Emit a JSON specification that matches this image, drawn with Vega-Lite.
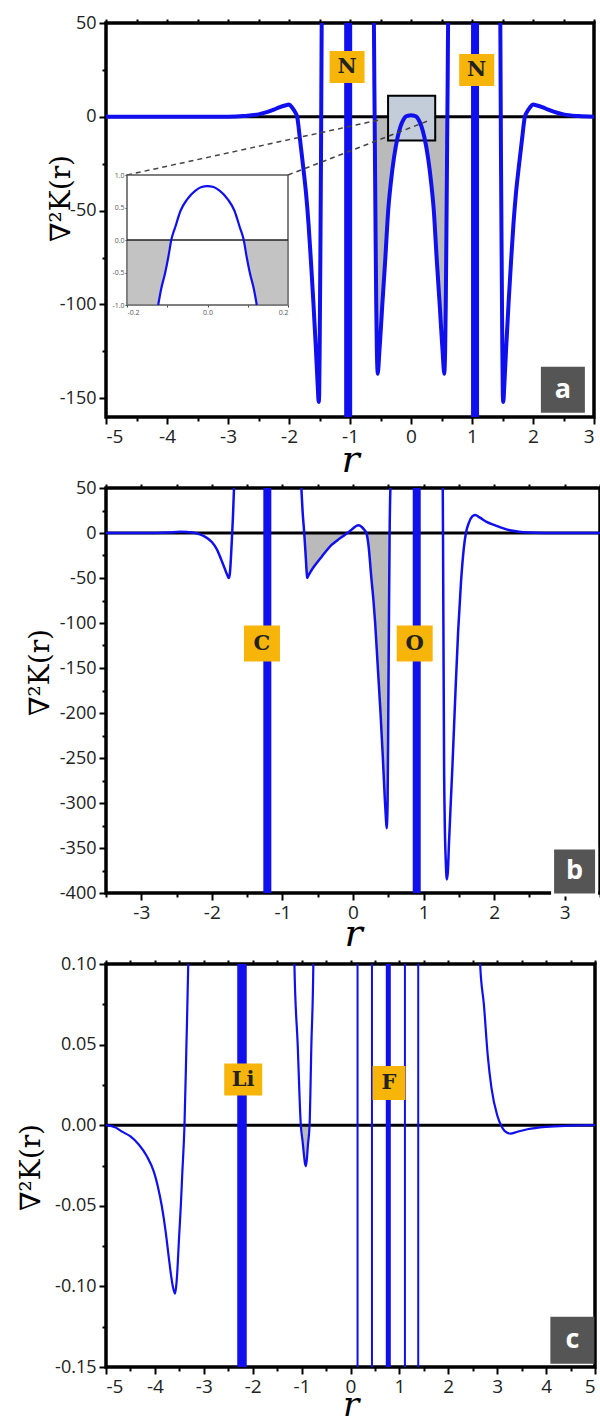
{
"$schema":"https://vega.github.io/schema/vega-lite/v6.json",
"autosize":{"type":"pad"},
"padding":{"left":15,"top":12,"right":0,"bottom":0},
"background":"white",
"config":{
 "view":{"stroke":"black","strokeWidth":3.5},
 "axis":{"labelFont":"Open Sans","labelFontSize":18,"labelColor":"#222","tickColor":"black","tickWidth":2,"domain":false,"grid":false,"titleFont":"DejaVu Serif","titleFontWeight":"normal","titleColor":"black","labelOverlap":false}
},
"datasets":{
 "curveA":[
  {"r":-5,"v":0},{"r":-3.2,"v":0},{"r":-3.0,"v":0.05},{"r":-2.75,"v":0.4},{"r":-2.5,"v":1.3},{"r":-2.35,"v":2.6},{"r":-2.25,"v":3.8},{"r":-2.15,"v":5.2},{"r":-2.05,"v":6.2},{"r":-2.0,"v":6.5},{"r":-1.95,"v":5.0},{"r":-1.9,"v":2.5},{"r":-1.866,"v":0},{"r":-1.82,"v":-12},{"r":-1.77,"v":-26},{"r":-1.72,"v":-41},{"r":-1.68,"v":-57},{"r":-1.64,"v":-77},{"r":-1.6,"v":-99},{"r":-1.56,"v":-123},{"r":-1.53,"v":-143},{"r":-1.513,"v":-152},{"r":-1.505,"v":-148},{"r":-1.495,"v":-115},{"r":-1.485,"v":-70},{"r":-1.475,"v":-20},{"r":-1.465,"v":45},{"r":-1.455,"v":90},{"r":-0.62,"v":90},{"r":-0.608,"v":50},{"r":-0.6,"v":15},{"r":-0.596,"v":0},{"r":-0.59,"v":-25},{"r":-0.58,"v":-65},{"r":-0.57,"v":-100},{"r":-0.56,"v":-124},{"r":-0.55,"v":-135},{"r":-0.545,"v":-137},{"r":-0.535,"v":-134},{"r":-0.52,"v":-126},{"r":-0.5,"v":-116},{"r":-0.47,"v":-100},{"r":-0.42,"v":-75},{"r":-0.374,"v":-50},{"r":-0.33,"v":-35},{"r":-0.28,"v":-22},{"r":-0.22,"v":-11},{"r":-0.17,"v":-5},{"r":-0.12,"v":-1.3},{"r":-0.09,"v":0},{"r":-0.05,"v":0.58},{"r":0,"v":0.83},
  {"r":0.05,"v":0.58},{"r":0.09,"v":0},{"r":0.12,"v":-1.3},{"r":0.17,"v":-5},{"r":0.22,"v":-11},{"r":0.28,"v":-22},{"r":0.33,"v":-35},{"r":0.374,"v":-50},{"r":0.42,"v":-75},{"r":0.47,"v":-100},{"r":0.5,"v":-116},{"r":0.52,"v":-126},{"r":0.535,"v":-134},{"r":0.545,"v":-137},{"r":0.55,"v":-135},{"r":0.56,"v":-124},{"r":0.57,"v":-100},{"r":0.58,"v":-65},{"r":0.59,"v":-25},{"r":0.596,"v":0},{"r":0.6,"v":15},{"r":0.608,"v":50},{"r":0.62,"v":90},{"r":1.455,"v":90},{"r":1.465,"v":45},{"r":1.475,"v":-20},{"r":1.485,"v":-70},{"r":1.495,"v":-115},{"r":1.505,"v":-148},{"r":1.513,"v":-152},{"r":1.53,"v":-143},{"r":1.56,"v":-123},{"r":1.6,"v":-99},{"r":1.64,"v":-77},{"r":1.68,"v":-57},{"r":1.72,"v":-41},{"r":1.77,"v":-26},{"r":1.82,"v":-12},{"r":1.866,"v":0},{"r":1.9,"v":2.5},{"r":1.95,"v":5.0},{"r":2.0,"v":6.5},{"r":2.05,"v":6.2},{"r":2.15,"v":5.2},{"r":2.25,"v":3.8},{"r":2.35,"v":2.6},{"r":2.5,"v":1.3},{"r":2.75,"v":0.4},{"r":3.0,"v":0.05}
 ],
 "insetCurve":[
  {"r":-0.1225,"v":-1},{"r":-0.115,"v":-0.75},{"r":-0.105,"v":-0.5},{"r":-0.097,"v":-0.25},{"r":-0.09,"v":0},{"r":-0.08,"v":0.2},{"r":-0.067,"v":0.45},{"r":-0.05,"v":0.63},{"r":-0.03,"v":0.76},{"r":-0.015,"v":0.815},{"r":0,"v":0.83},{"r":0.015,"v":0.815},{"r":0.03,"v":0.76},{"r":0.05,"v":0.63},{"r":0.067,"v":0.45},{"r":0.08,"v":0.2},{"r":0.09,"v":0},{"r":0.097,"v":-0.25},{"r":0.105,"v":-0.5},{"r":0.115,"v":-0.75},{"r":0.1225,"v":-1}
 ],
 "insetHatch":[
  {"r":-0.2,"v":-1},{"r":-0.1225,"v":-1},{"r":-0.115,"v":-0.75},{"r":-0.105,"v":-0.5},{"r":-0.097,"v":-0.25},{"r":-0.09,"v":0},{"r":0.09,"v":0},{"r":0.097,"v":-0.25},{"r":0.105,"v":-0.5},{"r":0.115,"v":-0.75},{"r":0.1225,"v":-1},{"r":0.2,"v":-1}
 ],
 "curveB":[
  {"r":-3.5,"v":0},{"r":-2.8,"v":0},{"r":-2.6,"v":0.5},{"r":-2.45,"v":1.3},{"r":-2.35,"v":1.0},{"r":-2.25,"v":0.2},{"r":-2.17,"v":-1.5},{"r":-2.1,"v":-4},{"r":-2.0,"v":-10},{"r":-1.93,"v":-18},{"r":-1.87,"v":-29},{"r":-1.82,"v":-39},{"r":-1.78,"v":-47},{"r":-1.76,"v":-50},{"r":-1.745,"v":-45},{"r":-1.73,"v":-28},{"r":-1.715,"v":-5},{"r":-1.7,"v":20},{"r":-1.685,"v":52},{"r":-1.68,"v":60},
  {"r":-0.74,"v":60},{"r":-0.732,"v":50},{"r":-0.715,"v":25},{"r":-0.691,"v":0},{"r":-0.67,"v":-26},{"r":-0.655,"v":-45},{"r":-0.648,"v":-50},{"r":-0.63,"v":-47},{"r":-0.6,"v":-43},{"r":-0.55,"v":-37},{"r":-0.5,"v":-32},{"r":-0.44,"v":-26},{"r":-0.38,"v":-20},{"r":-0.3,"v":-13},{"r":-0.22,"v":-8},{"r":-0.15,"v":-4},{"r":-0.08,"v":0},{"r":-0.03,"v":3},{"r":0,"v":5},{"r":0.04,"v":7.5},{"r":0.08,"v":8.5},{"r":0.12,"v":7},{"r":0.16,"v":3.5},{"r":0.19,"v":0},{"r":0.22,"v":-14},{"r":0.26,"v":-50},{"r":0.29,"v":-75},{"r":0.314,"v":-100},{"r":0.352,"v":-150},{"r":0.39,"v":-200},{"r":0.423,"v":-250},{"r":0.45,"v":-294},{"r":0.465,"v":-315},{"r":0.477,"v":-328},{"r":0.49,"v":-300},{"r":0.5,"v":-200},{"r":0.51,"v":-90},{"r":0.519,"v":0},{"r":0.53,"v":50},{"r":0.535,"v":60},
  {"r":1.265,"v":60},{"r":1.272,"v":50},{"r":1.278,"v":-50},{"r":1.284,"v":-150},{"r":1.29,"v":-250},{"r":1.3,"v":-320},{"r":1.315,"v":-365},{"r":1.33,"v":-385},{"r":1.345,"v":-375},{"r":1.36,"v":-345},{"r":1.385,"v":-300},{"r":1.41,"v":-257},{"r":1.45,"v":-180},{"r":1.49,"v":-109},{"r":1.53,"v":-55},{"r":1.57,"v":-17},{"r":1.6,"v":0},{"r":1.64,"v":11},{"r":1.69,"v":18.5},{"r":1.73,"v":20},{"r":1.8,"v":17},{"r":1.9,"v":12},{"r":2.0,"v":9},{"r":2.1,"v":6},{"r":2.22,"v":3},{"r":2.35,"v":1.5},{"r":2.5,"v":0.6},{"r":2.7,"v":0.1},{"r":3.0,"v":0},{"r":3.5,"v":0}
 ],
 "curveC":[
  {"r":-5,"v":0},{"r":-4.8,"v":-0.0015},{"r":-4.67,"v":-0.004},{"r":-4.5,"v":-0.007},{"r":-4.33,"v":-0.012},{"r":-4.17,"v":-0.019},{"r":-4.02,"v":-0.029},{"r":-3.94,"v":-0.038},{"r":-3.86,"v":-0.05},{"r":-3.78,"v":-0.066},{"r":-3.72,"v":-0.081},{"r":-3.67,"v":-0.093},{"r":-3.63,"v":-0.1005},{"r":-3.59,"v":-0.1045},{"r":-3.565,"v":-0.1},{"r":-3.54,"v":-0.09},{"r":-3.51,"v":-0.072},{"r":-3.47,"v":-0.05},{"r":-3.44,"v":-0.03},{"r":-3.395,"v":0},{"r":-3.355,"v":0.05},{"r":-3.318,"v":0.1},{"r":-3.31,"v":0.115},
  {"r":-1.155,"v":0.115},{"r":-1.147,"v":0.1},{"r":-1.08,"v":0.05},{"r":-1.016,"v":0},{"r":-0.98,"v":-0.01},{"r":-0.95,"v":-0.019},{"r":-0.93,"v":-0.024},{"r":-0.915,"v":-0.0255},{"r":-0.895,"v":-0.022},{"r":-0.87,"v":-0.012},{"r":-0.837,"v":0},{"r":-0.8,"v":0.05},{"r":-0.76,"v":0.1},{"r":-0.755,"v":0.115},
  {"r":2.64,"v":0.115},{"r":2.651,"v":0.1},{"r":2.729,"v":0.0745},{"r":2.806,"v":0.0435},{"r":2.884,"v":0.0228},{"r":3.0,"v":0.0062},{"r":3.078,"v":0},{"r":3.15,"v":-0.0035},{"r":3.271,"v":-0.0052},{"r":3.4,"v":-0.0042},{"r":3.62,"v":-0.0025},{"r":4.0,"v":-0.001},{"r":4.5,"v":-0.0003},{"r":5,"v":0}
 ]
},
"spacing":71,
"bounds":"flush",
"vconcat":[
  {"width":488,"height":394,
   "resolve":{"scale":{"x":"independent","y":"independent"}},
   "layer":[
    {"encoding":{
      "x":{"field":"r","type":"quantitative","scale":{"domain":[-5,3],"nice":false,"zero":false},
       "axis":{"orient":"bottom","values":[-5,-4.5,-4,-3.5,-3,-2.5,-2,-1.5,-1,-0.5,0,0.5,1,1.5,2,2.5,3],"labelExpr":"datum.value % 1 == 0 ? '' + datum.value : ''","tickSize":{"condition":{"test":"datum.value % 1 != 0","value":4},"value":7},"labelPadding":3,"labelFontSize":19,"title":"r","titleFontStyle":"italic","titleFontSize":38,"titleY":54,"titleBaseline":"alphabetic"}},
      "y":{"field":"v","type":"quantitative","scale":{"domain":[-160,50],"nice":false,"zero":false},
       "axis":{"orient":"left","values":[-150,-125,-100,-75,-50,-25,0,25,50],"labelExpr":"datum.value % 50 == 0 ? '' + datum.value : ''","tickSize":{"condition":{"test":"datum.value % 50 != 0","value":4},"value":7},"labelPadding":3,"title":"∇²K(r)","titleFontSize":28,"titleX":-45,"titleY":175,"titleBaseline":"middle"}}},
     "layer":[
      {"data":{"name":"curveA"},"transform":[{"filter":"abs(datum.r) < 0.6 && datum.v <= 0"}],"mark":{"type":"area","color":"#888888","opacity":0.58,"clip":true,"interpolate":"monotone"},"encoding":{"y2":{"datum":0}}},
      {"data":{"values":[{"r":-5,"r2":3,"v":0}]},"mark":{"type":"rule","color":"black","strokeWidth":3},"encoding":{"x2":{"field":"r2"}}},
      {"data":{"values":[{"r":-0.376,"r2":0.397,"v":-12.6,"v2":11.2}]},"mark":{"type":"rect","fill":"#c3ccd9","stroke":"black","strokeWidth":2},"encoding":{"x2":{"field":"r2"},"y2":{"field":"v2"}}},
      {"data":{"name":"curveA"},"mark":{"type":"line","color":"#1010ee","strokeWidth":4,"clip":true,"interpolate":"monotone"}},
      {"data":{"values":[{"r":-1.03,"v":-160,"v2":50},{"r":1.05,"v":-160,"v2":50}]},"mark":{"type":"rule","color":"#1010ee","strokeWidth":8},"encoding":{"y2":{"field":"v2"}}},
      {"data":{"values":[{"r":-4.656,"v":-31,"r2":-0.54,"v2":-1.8},{"r":-2.016,"v":-31,"r2":0.31,"v2":-1.8}]},"mark":{"type":"rule","color":"#444","strokeWidth":1.5,"strokeDash":[5,4]},"encoding":{"x2":{"field":"r2"},"y2":{"field":"v2"}}},
      {"data":{"values":[{"atom":"N","r":-1.048,"v":26.5},{"atom":"N","r":1.077,"v":25}]},"mark":{"type":"rect","width":35,"height":32,"color":"#F7B50A"}},
      {"data":{"values":[{"atom":"N","r":-1.048,"v":26.5},{"atom":"N","r":1.077,"v":25}]},"mark":{"type":"text","font":"DejaVu Serif","fontWeight":"bold","fontSize":21,"color":"#222","baseline":"middle","align":"center"},"encoding":{"text":{"field":"atom"}}},
      {"data":{"values":[{"tag":"a","r":2.49,"v":-145.5}]},"mark":{"type":"rect","width":44,"height":46,"color":"#555555"}},
      {"data":{"values":[{"tag":"a","r":2.49,"v":-145.5}]},"mark":{"type":"text","font":"Open Sans","fontWeight":"bold","fontSize":27,"color":"white","baseline":"middle","align":"center"},"encoding":{"text":{"field":"tag"}}}
     ]},
    {"encoding":{
      "x":{"field":"r","type":"quantitative","scale":{"domain":[-0.2,0.2],"range":[21,182],"nice":false,"zero":false},
       "axis":{"orient":"bottom","offset":-112,"values":[-0.2,-0.1,0,0.1,0.2],"labelExpr":"abs(datum.value) == 0.1 ? '' : replace(format(datum.value,'.1f'),'\u2212','-')","tickSize":2,"tickWidth":1,"tickColor":"#444","labelFontSize":7,"labelColor":"#555","labelPadding":1,"title":null}},
      "y":{"field":"v","type":"quantitative","scale":{"domain":[-1,1],"range":[282,152],"nice":false,"zero":false},
       "axis":{"orient":"left","offset":-21,"values":[-1,-0.5,0,0.5,1],"labelExpr":"replace(format(datum.value,'.1f'),'\u2212','-')","tickSize":2,"tickWidth":1,"tickColor":"#444","labelFontSize":7,"labelColor":"#555","labelPadding":1,"title":null}}},
     "layer":[
      {"data":{"values":[{"r":-0.2,"r2":0.2,"v":-1,"v2":1}]},"mark":{"type":"rect","fill":"white","stroke":"#555","strokeWidth":1.5},"encoding":{"x2":{"field":"r2"},"y2":{"field":"v2"}}},
      {"data":{"name":"insetHatch"},"mark":{"type":"area","color":"#888888","opacity":0.5},"encoding":{"y2":{"datum":0}}},
      {"data":{"values":[{"r":-0.2,"r2":0.2,"v":0}]},"mark":{"type":"rule","color":"#222","strokeWidth":1.5},"encoding":{"x2":{"field":"r2"}}},
      {"data":{"name":"insetCurve"},"mark":{"type":"line","color":"#1010ee","strokeWidth":2.2,"interpolate":"monotone"}}
     ]},
    {"data":{"values":[{"r":0}]},"mark":{"type":"rule","opacity":0},
     "encoding":{"x":{"field":"r","type":"quantitative","scale":{"domain":[-5,3],"nice":false,"zero":false},
       "axis":{"orient":"top","values":[-5,-4.5,-4,-3.5,-3,-2.5,-2,-1.5,-1,-0.5,0,0.5,1,1.5,2,2.5,3],"labels":false,"tickSize":4,"title":null}}}}
   ]},
  {"width":494,"height":405,
   "resolve":{"scale":{"x":"independent","y":"independent"}},
   "layer":[
    {"encoding":{
      "x":{"field":"r","type":"quantitative","scale":{"domain":[-3.5,3.5],"nice":false,"zero":false},
       "axis":{"orient":"bottom","values":[-3.5,-3,-2.5,-2,-1.5,-1,-0.5,0,0.5,1,1.5,2,2.5,3,3.5],"labelExpr":"datum.value % 1 == 0 ? '' + datum.value : ''","tickSize":{"condition":{"test":"datum.value % 1 != 0","value":4},"value":7},"labelPadding":3,"labelFontSize":19,"title":"r","titleFontStyle":"italic","titleFontSize":38,"titleY":52,"titleBaseline":"alphabetic"}},
      "y":{"field":"v","type":"quantitative","scale":{"domain":[-400,50],"nice":false,"zero":false},
       "axis":{"orient":"left","values":[-400,-375,-350,-325,-300,-275,-250,-225,-200,-175,-150,-125,-100,-75,-50,-25,0,25,50],"labelExpr":"datum.value % 50 == 0 ? '' + datum.value : ''","tickSize":{"condition":{"test":"datum.value % 50 != 0","value":4},"value":7},"labelPadding":3,"title":"∇²K(r)","titleFontSize":28,"titleX":-66,"titleY":184,"titleBaseline":"middle"}}},
     "layer":[
      {"data":{"name":"curveB"},"transform":[{"filter":"datum.r > -0.7 && datum.r < 0.53 && datum.v <= 0"}],"mark":{"type":"area","color":"#888888","opacity":0.58,"clip":true,"interpolate":"monotone"},"encoding":{"y2":{"datum":0}}},
      {"data":{"values":[{"r":-3.5,"r2":3.5,"v":0}]},"mark":{"type":"rule","color":"black","strokeWidth":3},"encoding":{"x2":{"field":"r2"}}},
      {"data":{"name":"curveB"},"mark":{"type":"line","color":"#1010ee","strokeWidth":2.5,"clip":true,"interpolate":"monotone"}},
      {"data":{"values":[{"r":-1.214,"v":-400,"v2":50},{"r":0.903,"v":-400,"v2":50}]},"mark":{"type":"rule","color":"#1010ee","strokeWidth":8},"encoding":{"y2":{"field":"v2"}}},
      {"data":{"values":[{"atom":"C","r":-1.29,"v":-122.8},{"atom":"O","r":0.874,"v":-122.8}]},"mark":{"type":"rect","width":36,"height":36,"color":"#F7B50A"}},
      {"data":{"values":[{"atom":"C","r":-1.29,"v":-122.8},{"atom":"O","r":0.874,"v":-122.8}]},"mark":{"type":"text","font":"DejaVu Serif","fontWeight":"bold","fontSize":21,"color":"#222","baseline":"middle","align":"center"},"encoding":{"text":{"field":"atom"}}},
      {"data":{"values":[{"tag":"b","r":3.14,"v":-376}]},"mark":{"type":"rect","width":44,"height":47,"color":"#555555","stroke":"white","strokeWidth":3}},
      {"data":{"values":[{"tag":"b","r":3.14,"v":-376}]},"mark":{"type":"text","font":"Open Sans","fontWeight":"bold","fontSize":27,"color":"white","baseline":"middle","align":"center"},"encoding":{"text":{"field":"tag"}}}
     ]},
    {"data":{"values":[{"r":0}]},"mark":{"type":"rule","opacity":0},
     "encoding":{"x":{"field":"r","type":"quantitative","scale":{"domain":[-3.5,3.5],"nice":false,"zero":false},
       "axis":{"orient":"top","values":[-3.5,-3,-2.5,-2,-1.5,-1,-0.5,0,0.5,1,1.5,2,2.5,3,3.5],"labels":false,"tickSize":4,"title":null}}}}
   ]},
 {"width":489,"height":403,
  "resolve":{"scale":{"x":"independent","y":"independent"}},
  "layer":[
   {"encoding":{
     "x":{"field":"r","type":"quantitative","scale":{"domain":[-5,5],"nice":false,"zero":false},
      "axis":{"orient":"bottom","values":[-5,-4.5,-4,-3.5,-3,-2.5,-2,-1.5,-1,-0.5,0,0.5,1,1.5,2,2.5,3,3.5,4,4.5,5],"labelExpr":"datum.value % 1 == 0 ? '' + datum.value : ''","tickSize":{"condition":{"test":"datum.value % 1 != 0","value":4},"value":7},"labelPadding":3,"labelFontSize":19,"title":"r","titleFontStyle":"italic","titleFontSize":34,"titleY":48,"titleBaseline":"alphabetic"}},
     "y":{"field":"v","type":"quantitative","scale":{"domain":[-0.15,0.1],"nice":false,"zero":false},
      "axis":{"orient":"left","values":[-0.15,-0.125,-0.1,-0.075,-0.05,-0.025,0,0.025,0.05,0.075,0.1],"labelExpr":"abs(datum.value*20 - round(datum.value*20)) < 0.001 ? replace(format(datum.value,'.2f'),'\u2212','-') : ''","tickSize":{"condition":{"test":"abs(datum.value*20 - round(datum.value*20)) > 0.001","value":4},"value":7},"labelPadding":3,"title":"∇²K(r)","titleFontSize":28,"titleX":-75,"titleY":203,"titleBaseline":"middle"}}},
    "layer":[
     {"data":{"name":"curveC"},"transform":[{"filter":"datum.r > -1.1 && datum.r < -0.8 && datum.v <= 0"}],"mark":{"type":"area","color":"#888888","opacity":0.58,"clip":true,"interpolate":"monotone"},"encoding":{"y2":{"datum":0}}},
     {"data":{"values":[{"r":-5,"r2":5,"v":0}]},"mark":{"type":"rule","color":"black","strokeWidth":3},"encoding":{"x2":{"field":"r2"}}},
     {"data":{"name":"curveC"},"mark":{"type":"line","color":"#1010ee","strokeWidth":2.2,"clip":true,"interpolate":"monotone"}},
     {"data":{"values":[{"r":0.144,"v":-0.15,"v2":0.1},{"r":0.439,"v":-0.15,"v2":0.1},{"r":1.113,"v":-0.15,"v2":0.1},{"r":1.385,"v":-0.15,"v2":0.1}]},"mark":{"type":"rule","color":"#1010ee","strokeWidth":2},"encoding":{"y2":{"field":"v2"}}},
     {"data":{"values":[{"r":-2.219,"v":-0.15,"v2":0.1}]},"mark":{"type":"rule","color":"#1010ee","strokeWidth":9.5},"encoding":{"y2":{"field":"v2"}}},
     {"data":{"values":[{"r":0.773,"v":-0.15,"v2":0.1}]},"mark":{"type":"rule","color":"#1010ee","strokeWidth":5},"encoding":{"y2":{"field":"v2"}}},
     {"data":{"values":[{"atom":"Li","r":-2.194,"v":0.0283}]},"mark":{"type":"rect","width":38,"height":32,"color":"#F7B50A"}},
     {"data":{"values":[{"atom":"F","r":0.788,"v":0.0262}]},"mark":{"type":"rect","width":33,"height":34,"color":"#F7B50A"}},
     {"data":{"values":[{"atom":"Li","r":-2.194,"v":0.0283},{"atom":"F","r":0.788,"v":0.0262}]},"mark":{"type":"text","font":"DejaVu Serif","fontWeight":"bold","fontSize":21,"color":"#222","baseline":"middle","align":"center"},"encoding":{"text":{"field":"atom"}}},
     {"data":{"values":[{"tag":"c","r":4.537,"v":-0.1334}]},"mark":{"type":"rect","width":44,"height":47,"color":"#555555"}},
     {"data":{"values":[{"tag":"c","r":4.537,"v":-0.1334}]},"mark":{"type":"text","font":"Open Sans","fontWeight":"bold","fontSize":27,"color":"white","baseline":"middle","align":"center"},"encoding":{"text":{"field":"tag"}}}
    ]},
   {"data":{"values":[{"r":0}]},"mark":{"type":"rule","opacity":0},
    "encoding":{"x":{"field":"r","type":"quantitative","scale":{"domain":[-5,5],"nice":false,"zero":false},
      "axis":{"orient":"top","values":[-5,-4.5,-4,-3.5,-3,-2.5,-2,-1.5,-1,-0.5,0,0.5,1,1.5,2,2.5,3,3.5,4,4.5,5],"labels":false,"tickSize":4,"title":null}}}}
  ]}
]
}
